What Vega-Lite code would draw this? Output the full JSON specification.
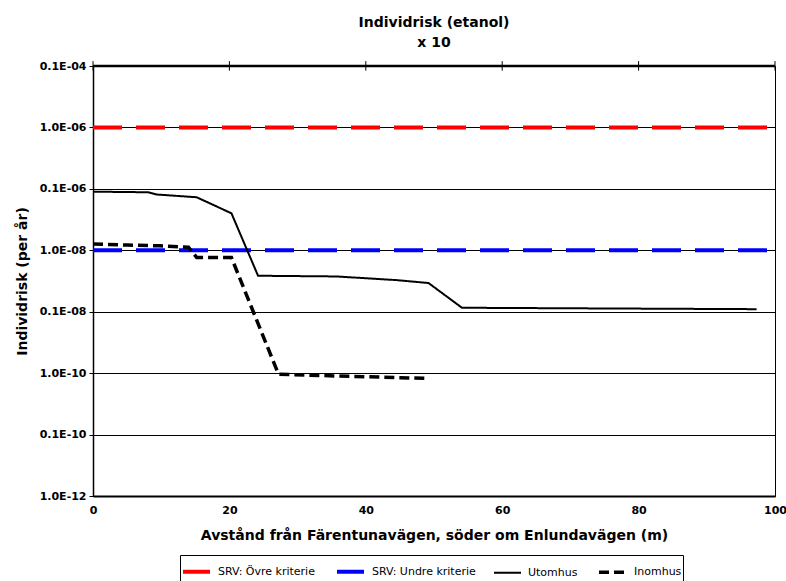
{
  "$schema": "https://vega.github.io/schema/vega-lite/v6.json",
  "autosize": "none",
  "width": 682,
  "height": 430,
  "padding": {"left": 93, "top": 66, "right": 11, "bottom": 85},
  "background": "white",
  "config": {
    "font": "DejaVu Sans",
    "view": {"stroke": "black", "strokeWidth": 1}
  },
  "title": {
    "text": ["Individrisk (etanol)", "x 10"],
    "fontSize": 14,
    "fontWeight": "bold",
    "font": "DejaVu Sans",
    "color": "black",
    "lineHeight": 20,
    "offset": 10,
    "anchor": "middle"
  },
  "data": {
    "values": [
      {"serie": "SRV: Övre kriterie", "x": 0, "y": 1e-5},
      {"serie": "SRV: Övre kriterie", "x": 100, "y": 1e-5},
      {"serie": "SRV: Undre kriterie", "x": 0, "y": 1e-7},
      {"serie": "SRV: Undre kriterie", "x": 100, "y": 1e-7},
      {"serie": "Utomhus", "x": 0, "y": 9.0e-7},
      {"serie": "Utomhus", "x": 8.1, "y": 8.8e-7},
      {"serie": "Utomhus", "x": 9.3, "y": 8.1e-7},
      {"serie": "Utomhus", "x": 15.2, "y": 7.3e-7},
      {"serie": "Utomhus", "x": 20.3, "y": 4.0e-7},
      {"serie": "Utomhus", "x": 24.2, "y": 3.85e-8},
      {"serie": "Utomhus", "x": 35.7, "y": 3.75e-8},
      {"serie": "Utomhus", "x": 44.5, "y": 3.27e-8},
      {"serie": "Utomhus", "x": 49.2, "y": 2.93e-8},
      {"serie": "Utomhus", "x": 54.1, "y": 1.16e-8},
      {"serie": "Utomhus", "x": 75, "y": 1.13e-8},
      {"serie": "Utomhus", "x": 97.3, "y": 1.1e-8},
      {"serie": "Inomhus", "x": 0, "y": 1.26e-7},
      {"serie": "Inomhus", "x": 5, "y": 1.22e-7},
      {"serie": "Inomhus", "x": 9.8, "y": 1.18e-7},
      {"serie": "Inomhus", "x": 14, "y": 1.12e-7},
      {"serie": "Inomhus", "x": 15.2, "y": 7.65e-8},
      {"serie": "Inomhus", "x": 20.3, "y": 7.6e-8},
      {"serie": "Inomhus", "x": 27.2, "y": 9.6e-10},
      {"serie": "Inomhus", "x": 35.7, "y": 9.0e-10},
      {"serie": "Inomhus", "x": 49.2, "y": 8.2e-10}
    ]
  },
  "layer": [
    {
      "mark": {"type": "rule", "color": "black", "strokeWidth": 1},
      "data": {"values": [{"t": 0}, {"t": 20}, {"t": 40}, {"t": 60}, {"t": 80}, {"t": 100}]},
      "encoding": {
        "x": {"field": "t", "type": "quantitative"},
        "y": {"datum": 1.2e-4},
        "y2": {"datum": 0.84e-4}
      }
    },
    {
      "mark": {"type": "rule", "color": "black", "strokeWidth": 2.5},
      "data": {"values": [{"v": 1e-4}]},
      "encoding": {
        "y": {"field": "v", "type": "quantitative"}
      }
    },
    {
      "transform": [{"filter": "indexof(datum.serie, 'SRV') == 0"}],
      "mark": {"type": "line", "clip": true},
      "encoding": {
        "x": {
          "field": "x",
          "type": "quantitative",
          "scale": {"domain": [0, 100], "nice": false, "zero": false},
          "axis": {
            "orient": "bottom",
            "values": [0, 20, 40, 60, 80, 100],
            "labelFlush": false,
            "title": "Avstånd från Färentunavägen, söder om Enlundavägen (m)",
            "titleFont": "DejaVu Sans",
            "titleFontSize": 14,
            "titleFontWeight": "bold",
            "titleColor": "black",
            "titlePadding": 13,
            "labelFont": "DejaVu Sans",
            "labelFontSize": 11,
            "labelFontWeight": "bold",
            "labelColor": "black",
            "labelPadding": 8,
            "ticks": false,
            "domainColor": "black",
            "domainWidth": 2,
            "grid": false
          }
        },
        "y": {
          "field": "y",
          "type": "quantitative",
          "scale": {"type": "log", "domain": [1e-11, 1e-4], "nice": false},
          "axis": {
            "values": [1e-4, 1e-5, 1e-6, 1e-7, 1e-8, 1e-9, 1e-10, 1e-11],
            "labelExpr": "round(log(datum.value)/LN10) == -4 ? '0.1E-04' : round(log(datum.value)/LN10) == -5 ? '1.0E-06' : round(log(datum.value)/LN10) == -6 ? '0.1E-06' : round(log(datum.value)/LN10) == -7 ? '1.0E-08' : round(log(datum.value)/LN10) == -8 ? '0.1E-08' : round(log(datum.value)/LN10) == -9 ? '1.0E-10' : round(log(datum.value)/LN10) == -10 ? '0.1E-10' : '1.0E-12'",
            "title": "Individrisk (per år)",
            "titleFont": "DejaVu Sans",
            "titleFontSize": 14,
            "titleFontWeight": "bold",
            "titleColor": "black",
            "titlePadding": 10,
            "labelFont": "DejaVu Sans",
            "labelFontSize": 11,
            "labelFontWeight": "bold",
            "labelColor": "black",
            "labelPadding": 3,
            "tickColor": "black",
            "tickSize": 4,
            "domainColor": "black",
            "domainWidth": 1.5,
            "grid": true,
            "gridColor": "black",
            "gridWidth": 1,
            "gridOpacity": 1
          }
        },
        "color": {
          "field": "serie",
          "type": "nominal",
          "scale": {
            "domain": ["SRV: Övre kriterie", "SRV: Undre kriterie", "Utomhus", "Inomhus"],
            "range": ["#ff0000", "#0000ff", "#000000", "#000000"]
          },
          "legend": {
            "title": null,
            "orient": "none",
            "legendX": 87,
            "legendY": 489,
            "direction": "horizontal",
            "symbolType": "stroke",
            "symbolSize": 729,
            "labelFont": "DejaVu Sans",
            "labelFontSize": 11,
            "labelColor": "black",
            "strokeColor": "black",
            "fillColor": "white",
            "padding": 1,
            "columnPadding": 14,
            "labelOffset": 6
          }
        },
        "strokeDash": {
          "field": "serie",
          "type": "nominal",
          "scale": {
            "domain": ["SRV: Övre kriterie", "SRV: Undre kriterie", "Utomhus", "Inomhus"],
            "range": [[29, 14], [29, 14], [1, 0], [10, 5]]
          },
          "legend": null
        },
        "strokeWidth": {
          "field": "serie",
          "type": "nominal",
          "scale": {
            "type": "ordinal",
            "domain": ["SRV: Övre kriterie", "SRV: Undre kriterie", "Utomhus", "Inomhus"],
            "range": [4, 4, 2, 3.5]
          },
          "legend": null
        }
      }
    },
    {
      "transform": [{"filter": "indexof(datum.serie, 'SRV') != 0"}],
      "mark": {"type": "line", "clip": true},
      "encoding": {
        "x": {"field": "x", "type": "quantitative"},
        "y": {"field": "y", "type": "quantitative"},
        "color": {"field": "serie", "type": "nominal"},
        "strokeDash": {
          "field": "serie",
          "type": "nominal",
          "scale": {
            "domain": ["SRV: Övre kriterie", "SRV: Undre kriterie", "Utomhus", "Inomhus"],
            "range": [[29, 14], [29, 14], [1, 0], [10, 5]]
          },
          "legend": null
        },
        "strokeWidth": {
          "field": "serie",
          "type": "nominal",
          "scale": {
            "type": "ordinal",
            "domain": ["SRV: Övre kriterie", "SRV: Undre kriterie", "Utomhus", "Inomhus"],
            "range": [4, 4, 2, 3.5]
          },
          "legend": null
        }
      }
    }
  ]
}
